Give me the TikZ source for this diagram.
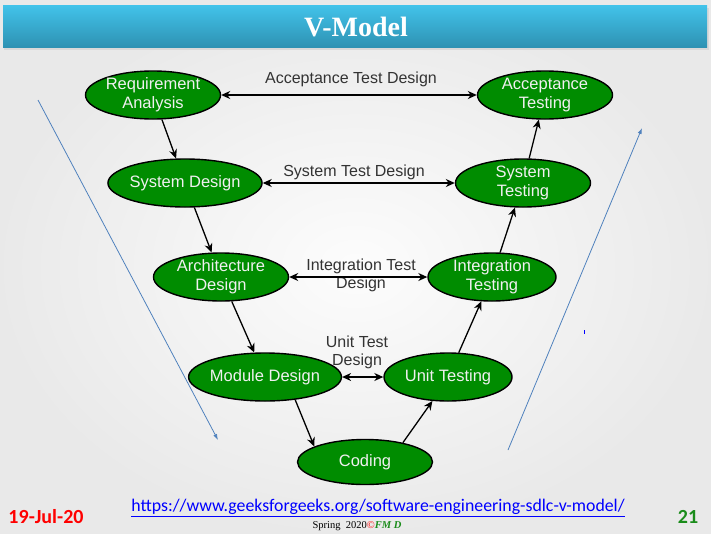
\documentclass[tikz,border=0pt]{standalone}
\usepackage{fontspec}
\setmainfont{Liberation Sans}
\newfontfamily\titlefont{Liberation Serif}
\newfontfamily\slidefont{Carlito}
\usepackage{xcolor}
\usetikzlibrary{shapes.geometric}
\usetikzlibrary{arrows.meta}
\definecolor{phasegreen}{HTML}{008C00}
\definecolor{bartop}{HTML}{42C3EA}
\definecolor{barbot}{HTML}{2E92B3}
\definecolor{sideblue}{HTML}{4F81BD}
\definecolor{labelgray}{HTML}{333333}
\definecolor{pagegreen}{HTML}{1A8C1A}
\tikzset{phase/.style = {shape=ellipse,draw,line width=1.4pt,fill=phasegreen,text=white!94!black,align=center,font=\fontsize{16.5}{19}\selectfont,inner xsep=-1pt,inner ysep=-8pt,minimum width=135pt,minimum height=48pt}}
\tikzset{flow/.style = {-{Stealth[length=9pt,width=8pt]},line width=1.3pt}}
\tikzset{both/.style = {{Stealth[length=9pt,width=8pt]}-{Stealth[length=9pt,width=8pt]},line width=1.3pt}}
\tikzset{testlabel/.style = {text=labelgray,align=center,font=\fontsize{16}{18}\selectfont,inner sep=0pt}}
\tikzset{sidearrow/.style = {-{Latex[length=6pt,width=4pt]},draw=sideblue,line width=0.8pt}}

\begin{document}
\begin{tikzpicture}[x=1pt,y=-1pt]
    \useasboundingbox (0,0) rectangle (711,533);
    \shade[inner color=white!98!gray, outer color=gray!17] (0,0) rectangle (711,533);
    \fill[black!15] (4,8) rectangle (709,50);
    \shade[top color=bartop,bottom color=barbot] (3,5) rectangle (707,47);
    \node[text=white,font=\titlefont\bfseries\fontsize{28}{30}\selectfont] (title) at (356,27) {V-Model};

    \node[phase] (reqan) at (153,95) {Requirement\\Analysis};
    \node[phase] (acctest) at (545,95) {Acceptance\\Testing};
    \node[phase] (sysdes) at (185,183) {System Design};
    \node[phase] (systest) at (523,183) {System\\Testing};
    \node[phase] (archdes) at (221,277) {Architecture\\Design};
    \node[phase,minimum width=128pt] (inttest) at (492,277) {Integration\\Testing};
    \node[phase] (moddes) at (265,377) {Module Design};
    \node[phase,minimum width=128pt] (unittest) at (448,377) {Unit Testing};
    \node[phase,minimum height=45pt] (coding) at (365,462) {Coding};

    \node[testlabel] (acclabel) at (351,79) {Acceptance Test Design};
    \node[testlabel] (syslabel) at (354,172) {System Test Design};
    \node[testlabel] (intlabel) at (361,275) {Integration Test\\Design};
    \node[testlabel] (unitlabel) at (357,352) {Unit Test\\Design};

    \draw[both] (reqan) -- (acctest);
    \draw[both] (sysdes) -- (systest);
    \draw[both] (archdes) -- (inttest);
    \draw[both] (moddes) -- (unittest);

    \draw[flow] (reqan) -- (sysdes);
    \draw[flow] (sysdes) -- (archdes);
    \draw[flow] (archdes) -- (moddes);
    \draw[flow] (moddes.-37) -- (coding.163);
    \draw[flow] (coding.27) -- (unittest.237);
    \draw[flow] (unittest) -- (inttest);
    \draw[flow] (inttest) -- (systest);
    \draw[flow] (systest) -- (acctest);

    \coordinate (leftstart) at (38,100);
    \coordinate (leftend) at (218,440);
    \coordinate (rightstart) at (508,450);
    \coordinate (rightend) at (642,128);
    \draw[sidearrow] (leftstart) -- (leftend);
    \draw[sidearrow] (rightstart) -- (rightend);
    \fill[blue] (583.8,330) rectangle (585.2,334);

    \node[text=red,font=\slidefont\bfseries\fontsize{20}{22}\selectfont] (date) at (46,517) {19-Jul-20};
    \node[text=pagegreen,font=\slidefont\bfseries\fontsize{20}{22}\selectfont] (pagenum) at (688,517) {21};
    \node[text=blue,font=\slidefont\fontsize{17.8}{19}\selectfont] (link) at (378,508) {\underline{https://www.geeksforgeeks.org/software-engineering-sdlc-v-model/}};
    \node[font=\titlefont\fontsize{10.5}{11}\selectfont,inner sep=0pt] (credit) at (357,526.5) {Spring\ \ 2020\textcolor{red}{\copyright}\textcolor{pagegreen}{\textit{\textbf{FM D}}}};
\end{tikzpicture}
\end{document}
